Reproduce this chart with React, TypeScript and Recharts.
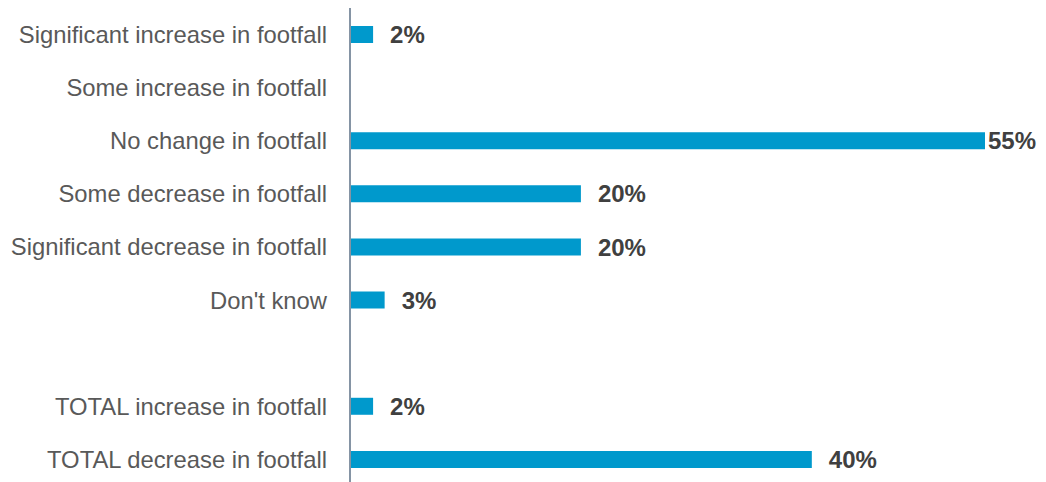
import React from "react";
import { BarChart, Bar, XAxis, YAxis, LabelList } from "recharts";

const categories = [
  "Significant increase in footfall",
  "Some increase in footfall",
  "No change in footfall",
  "Some decrease in footfall",
  "Significant decrease in footfall",
  "Don't know",
  "",
  "TOTAL increase in footfall",
  "TOTAL decrease in footfall",
];
const values: (number | null)[] = [2, null, 55, 20, 20, 3, null, 2, 40];

const data = categories.map((c, i) => ({ name: c, key: `c${i}`, value: values[i] }));
const nameByKey: Record<string, string> = Object.fromEntries(data.map((d) => [d.key, d.name]));

const W = 1046;
const H = 482;
const CH = 486;
const FONT = "'Liberation Sans', Arial, sans-serif";

const renderLabel = (props: any) => {
  const { x, y, width, height, value } = props;
  if (value === null || value === undefined) return null;
  const end = Number(x) + Number(width);
  const gap = end + 17 + 50 > W ? 3 : 17;
  return (
    <text
      x={end + gap}
      y={Number(y) + Number(height) / 2}
      dy="0.36em"
      fill="#404040"
      fontSize={24}
      fontWeight="bold"
      fontFamily={FONT}
    >
      {`${value}%`}
    </text>
  );
};

export default function App() {
  return (
    <div style={{ position: "absolute", left: 0, top: 0, width: W, height: H, overflow: "hidden", background: "#fff" }}>
      <BarChart
        width={W}
        height={CH}
        data={data}
        layout="vertical"
        margin={{ top: 8, right: 61, bottom: 0, left: 0 }}
      >
        <XAxis type="number" domain={[0, 55]} hide />
        <YAxis
          type="category"
          dataKey="key"
          width={350}
          axisLine={{ stroke: "#8594A4", strokeWidth: 2 }}
          tickLine={false}
          tickMargin={17}
          interval={0}
          tickFormatter={(k: string) => nameByKey[k]}
          tick={{ fill: "#595959", fontSize: 23.8, fontFamily: FONT }}
        />
        <Bar dataKey="value" fill="#0099CC" barSize={17} isAnimationActive={false}>
          <LabelList dataKey="value" content={renderLabel} />
        </Bar>
      </BarChart>
    </div>
  );
}
